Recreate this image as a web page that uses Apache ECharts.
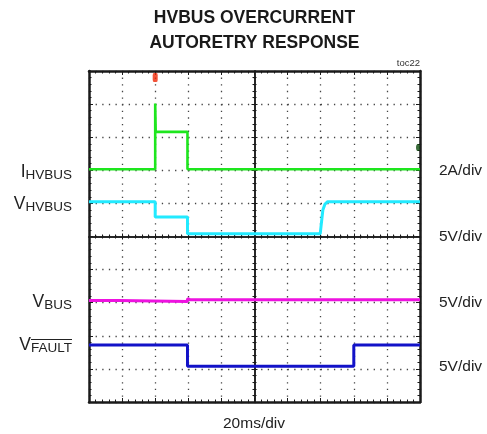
<!DOCTYPE html>
<html><head><meta charset="utf-8">
<script src="https://cdn.jsdelivr.net/npm/echarts@6/dist/echarts.min.js"></script>
<style>html,body{margin:0;padding:0;background:#fff}#c{width:487px;height:434px}</style>
</head><body><div id="c"></div>
<script>
// ---- text ----
const titleLines = ['HVBUS OVERCURRENT', 'AUTORETRY RESPONSE'];
const figId = 'toc22';
const timeLabel = '20ms/div';
const scaleLabels = ['2A/div', '5V/div', '5V/div', '5V/div'];
const channelMain = ['I', 'V', 'V', 'V'];
const channelSub = ['HVBUS', 'HVBUS', 'BUS', 'FAULT'];

// ---- axes: time in ms (20 ms/div), vertical in screen divisions ----
const xMin = 0, xMax = 200, xStep = 20;
const yMin = 0, yMax = 10, yStep = 1;

// ---- traces (time ms, level in divisions) ----
const ihvbusT = [0, 40, 40, 40.3, 59.5, 59.5, 200];
const ihvbusY = [7.03, 7.03, 9.02, 8.16, 8.16, 7.03, 7.03];
const vhvbusT = [0, 40, 40, 59.5, 59.5, 139.7, 141.3, 142.6, 144.2, 200];
const vhvbusY = [6.05, 6.05, 5.59, 5.59, 5.08, 5.08, 5.8, 5.98, 6.05, 6.05];
const vbusT = [0, 18, 18, 59.5, 59.5, 61, 200];
const vbusY = [3.07, 3.07, 3.04, 3.04, 3.12, 3.09, 3.09];
const vfaultT = [0, 59.5, 59.5, 160, 160, 200];
const vfaultY = [1.72, 1.72, 1.08, 1.08, 1.72, 1.72];
// scope markers: trigger position, channel-1 offset marker
const trigMarker = [40, 9.8];
const chMarker = [198.8, 7.69];

const zip = (t, y) => t.map((v, i) => [v, y[i]]);
const FF = '"Liberation Sans", Arial, sans-serif';
const INK = '#1a1a1a';

const G = { left: 89, top: 71, width: 331, height: 331 };
const minorPx = G.height / 50;

function xAx(pos, extra) {
  return Object.assign({
    type: 'value', min: xMin, max: xMax, interval: xStep, position: pos,
    axisLabel: { show: false }, splitLine: { show: false },
    axisLine: { show: true, onZero: false, lineStyle: { color: INK, width: 2.5 } },
    axisTick: { show: true, inside: true, length: 4, lineStyle: { color: INK, width: 1 } },
    minorTick: { show: true, splitNumber: 5, length: 2.5, lineStyle: { color: INK, width: 1 } }
  }, extra || {});
}
function yAx(pos, extra) {
  return Object.assign({
    type: 'value', min: yMin, max: yMax, interval: yStep, position: pos,
    axisLabel: { show: false }, splitLine: { show: false },
    axisLine: { show: true, onZero: false, lineStyle: { color: INK, width: 2.5 } },
    axisTick: { show: true, inside: true, length: 4, lineStyle: { color: INK, width: 1 } },
    minorTick: { show: true, splitNumber: 5, length: 2.5, lineStyle: { color: INK, width: 1 } }
  }, extra || {});
}
const dotted = { show: true, lineStyle: { color: '#444', width: 1.3, type: [1.3, minorPx - 1.3] } };
const centerLine = { show: true, onZero: false, lineStyle: { color: INK, width: 1.5 } };
const cTick = { show: true, length: 3, lineStyle: { color: INK, width: 1 } };
const cMinor = { show: true, splitNumber: 5, length: 2, lineStyle: { color: INK, width: 1 } };

const xAxes = [
  xAx('bottom', { splitLine: dotted }),
  xAx('top'),
  xAx('bottom', { offset: -G.height / 2, axisLine: centerLine, axisTick: Object.assign({ inside: true }, cTick), minorTick: cMinor }),
  xAx('bottom', { offset: -G.height / 2, axisLine: centerLine, axisTick: Object.assign({ inside: false }, cTick), minorTick: cMinor })
];
const yAxes = [
  yAx('left', { splitLine: dotted }),
  yAx('right'),
  yAx('left', { offset: -G.width / 2, axisLine: centerLine, axisTick: Object.assign({ inside: true }, cTick), minorTick: cMinor }),
  yAx('left', { offset: -G.width / 2, axisLine: centerLine, axisTick: Object.assign({ inside: false }, cTick), minorTick: cMinor })
];

function trace(name, t, y, color, w) {
  return { name, type: 'line', data: zip(t, y), showSymbol: false, symbol: 'none',
    lineStyle: { color, width: w }, itemStyle: { color }, z: 5, silent: true };
}

// measure FAULT for overline
const cv = document.createElement('canvas').getContext('2d');
const mainFS = 17.5, subFS = 13.5;
cv.font = subFS + 'px "Liberation Sans"';
const faultW = cv.measureText(channelSub[3]).width;

const leftX = 72;
const leftY = [173, 205, 303, 346];
const rightX = 439;
const rightY = [171, 237, 303, 367];

const graphics = [];
titleLines.forEach((t, i) => graphics.push({ type: 'text', x: 254.5, y: 18.5 + i * 25,
  style: { text: t, font: 'bold 17.5px ' + FF, fill: '#1a1a1a', align: 'center', verticalAlign: 'middle' } }));
graphics.push({ type: 'text', x: 420, y: 63, style: { text: figId, font: '9.5px ' + FF, fill: '#333', align: 'right', verticalAlign: 'middle' } });
graphics.push({ type: 'text', x: 254, y: 424, style: { text: timeLabel, font: '15.5px ' + FF, fill: '#222', align: 'center', verticalAlign: 'middle' } });
scaleLabels.forEach((t, i) => graphics.push({ type: 'text', x: rightX, y: rightY[i],
  style: { text: t, font: '15.5px ' + FF, fill: '#222', align: 'left', verticalAlign: 'middle' } }));
channelMain.forEach((m, i) => graphics.push({ type: 'text', x: leftX, y: leftY[i],
  style: { text: '{m|' + m + '}{s|' + channelSub[i] + '}', align: 'right', verticalAlign: 'middle', fill: '#222',
    rich: { m: { fontSize: mainFS, fontFamily: FF, fill: '#222', padding: [0, 0, 1, 0], verticalAlign: 'bottom' },
            s: { fontSize: subFS, fontFamily: FF, fill: '#222', verticalAlign: 'bottom' } } } }));
graphics.push({ type: 'line', shape: { x1: leftX - faultW, y1: leftY[3] - 6.5, x2: leftX, y2: leftY[3] - 6.5 },
  style: { stroke: '#222', lineWidth: 1.1 } });

const chart = echarts.init(document.getElementById('c'), null, { renderer: 'canvas' });
chart.setOption({
  animation: false,
  backgroundColor: '#fff',
  grid: G,
  xAxis: xAxes,
  yAxis: yAxes,
  series: [
    trace('VFAULT', vfaultT, vfaultY, '#1212c8', 3),
    trace('VBUS', vbusT, vbusY, '#ee12e0', 3),
    trace('VHVBUS', vhvbusT, vhvbusY, '#22eaff', 3),
    trace('IHVBUS', ihvbusT, ihvbusY, '#1ee61e', 2.6),
    { type: 'scatter', data: [trigMarker], symbol: 'roundRect', symbolSize: [5, 9], itemStyle: { color: '#f02808' }, z: 6, silent: true },
    { type: 'scatter', data: [chMarker], symbol: 'circle', symbolSize: [4, 7], itemStyle: { color: '#0b4a0b' }, z: 6, silent: true }
  ],
  graphic: graphics
});
</script></body></html>
